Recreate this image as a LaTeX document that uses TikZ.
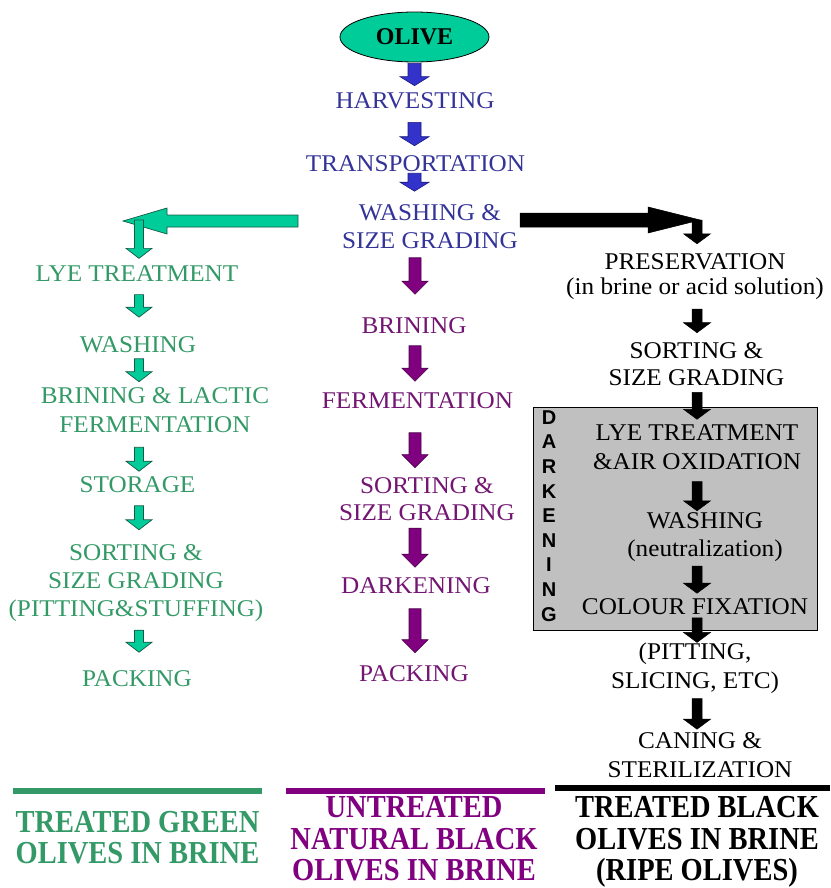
\documentclass[tikz,border=0pt]{standalone}
\usepackage{fontspec}
\setmainfont{Liberation Serif}
\newfontfamily\bodyfont{Liberation Serif}[FakeStretch=1.05]
\newfontfamily\arialfont{Liberation Sans}
\usepackage{graphicx}
\usetikzlibrary{calc,shapes.geometric}
\definecolor{txtblue}{HTML}{333399}
\definecolor{arrblue}{HTML}{3333CC}
\definecolor{edgeblue}{HTML}{1A1A80}
\definecolor{txtgreen}{HTML}{339966}
\definecolor{arrgreen}{HTML}{00CC99}
\definecolor{edgegreen}{HTML}{145A44}
\definecolor{txtpurple}{HTML}{721672}
\definecolor{arrpurple}{HTML}{800080}
\definecolor{edgepurple}{HTML}{4A004A}
\definecolor{boxgray}{HTML}{C0C0C0}
\definecolor{olivefill}{HTML}{00CC99}
\def\fsw{6pt}\def\fhw{13pt}\def\fhl{10pt}
% #1 style, #2 column reference, #3 from node, #4 to node, #5 top gap, #6 bottom gap
\newcommand\flowdown[6]{%
  \path[#1] let \p1=(#2), \p2=(#3.south), \p3=(#4.north) in
    (\x1-\fsw,\y2-#5) -- (\x1+\fsw,\y2-#5) -- (\x1+\fsw,\y3+#6+\fhl) -- (\x1+\fhw,\y3+#6+\fhl)
    -- (\x1,\y3+#6) -- (\x1-\fhw,\y3+#6+\fhl) -- (\x1-\fsw,\y3+#6+\fhl) -- cycle;}
% #1 style, #2 start coordinate, #3 to node, #4 bottom gap
\newcommand\flowfrom[4]{%
  \path[#1] let \p1=(#2), \p3=(#3.north) in
    (\x1-\fsw,\y1) -- (\x1+\fsw,\y1) -- (\x1+\fsw,\y3+#4+\fhl) -- (\x1+\fhw,\y3+#4+\fhl)
    -- (\x1,\y3+#4) -- (\x1-\fhw,\y3+#4+\fhl) -- (\x1-\fsw,\y3+#4+\fhl) -- cycle;}
\newcommand\sq[1]{\scalebox{0.89}[1]{#1}}
\begin{document}
\begin{tikzpicture}[x=1pt,y=-1pt,
  txt/.style={inner sep=0pt, align=center, font=\bodyfont\fontsize{24}{28}\selectfont},
  bluetxt/.style={txt, text=txtblue},
  purptxt/.style={txt, text=txtpurple},
  greentxt/.style={txt, text=txtgreen},
  blacktxt/.style={txt, text=black},
  titletxt/.style={inner sep=0pt, align=center, anchor=north, font=\bfseries\fontsize{32}{31.5}\selectfont},
  olivenode/.style={ellipse, draw=black, line width=0.8pt, fill=olivefill, minimum width=149pt, minimum height=50pt, inner sep=0pt, font=\bfseries\fontsize{24}{28}\selectfont},
  bluearrow/.style={fill=arrblue, draw=edgeblue, line width=0.6pt, /utils/exec={\def\fsw{6.5pt}\def\fhw{14.5pt}\def\fhl{9pt}}},
  purparrow/.style={fill=arrpurple, draw=edgepurple, line width=0.6pt, /utils/exec={\def\fsw{6pt}\def\fhw{13pt}\def\fhl{13pt}}},
  greenarrow/.style={fill=arrgreen, draw=edgegreen, line width=0.7pt, /utils/exec={\def\fsw{4.5pt}\def\fhw{13pt}\def\fhl{10pt}}},
  blackarrow/.style={fill=black, draw=black, line width=0.5pt, /utils/exec={\def\fsw{5pt}\def\fhw{13.5pt}\def\fhl{10pt}}},
  baseline rule/.style={line width=5.5pt}
]
\useasboundingbox (0,0) rectangle (830,888);

% column references
\coordinate (colB) at (414.5,0);
\coordinate (colP) at (415,0);
\coordinate (colG) at (139,0);
\coordinate (colK) at (697,0);

% ---------- central column ----------
\node[olivenode] (olive) at (414.5,37) {OLIVE};
\node[bluetxt] (harv) at (415,101) {HARVESTING};
\node[bluetxt] (trans) at (415.5,164) {TRANSPORTATION};
\node[bluetxt] (wash) at (430,226.5) {WASHING \&\\SIZE GRADING};

\node[purptxt] (brin) at (414,325.5) {BRINING};
\node[purptxt] (ferm) at (417.5,400.5) {FERMENTATION};
\node[purptxt, font=\bodyfont\fontsize{24}{27}\selectfont] (psort) at (427,499.4) {SORTING \&\\SIZE GRADING};
\node[purptxt] (pdark) at (416,585.5) {DARKENING};
\node[purptxt] (ppack) at (414,674) {PACKING};

% ---------- green column ----------
\node[greentxt] (glye) at (137,273.5) {LYE TREATMENT};
\node[greentxt] (gwash) at (138,344.5) {WASHING};
\node[greentxt, font=\bodyfont\fontsize{24}{29}\selectfont] (gbrin) at (155,410.5) {BRINING \& LACTIC\\FERMENTATION};
\node[greentxt] (gstor) at (137.5,484.5) {STORAGE};
\node[greentxt] (gsort) at (136,583.5) {SORTING \&\\SIZE GRADING\\(PITTING\&STUFFING)};
\node[greentxt] (gpack) at (137,678.5) {PACKING};

% ---------- black column ----------
\node[draw=black, fill=boxgray, line width=1pt, minimum width=284pt, minimum height=223pt, inner sep=0pt] (dbox) at (675,518.5) {};
\node[inner sep=0pt, align=center, font=\arialfont\bfseries\fontsize{20}{24.6}\selectfont] (dk) at (549,516) {D\\A\\R\\K\\E\\N\\I\\N\\G};

\node[blacktxt, font=\bodyfont\fontsize{24}{25}\selectfont] (pres) at (695,277) {PRESERVATION\\(in brine or acid solution)};
\node[blacktxt, font=\bodyfont\fontsize{24}{27}\selectfont] (ksort) at (696.5,364.5) {SORTING \&\\SIZE GRADING};
\node[blacktxt, font=\bodyfont\fontsize{24}{29}\selectfont] (klye) at (697,447) {LYE TREATMENT\\\&AIR OXIDATION};
\node[blacktxt] (kwash) at (705,537.5) {WASHING\\(neutralization)};
\node[blacktxt] (kfix) at (695,606.5) {COLOUR FIXATION};
\node[blacktxt, font=\bodyfont\fontsize{24}{29}\selectfont] (kpit) at (695,668) {(PITTING,\\SLICING, ETC)};
\node[blacktxt, font=\bodyfont\fontsize{24}{29}\selectfont] (kcan) at (700,755) {CANING \&\\STERILIZATION};

% ---------- connectors ----------
\flowdown{bluearrow}{colB}{olive}{harv}{1pt}{7pt}
\flowdown{bluearrow}{colB}{harv}{trans}{13pt}{10pt}
\flowdown{bluearrow}{colB}{trans}{wash}{1pt}{13pt}

\flowdown{purparrow}{colP}{wash}{brin}{9pt}{23pt}
\flowdown{purparrow}{colP}{brin}{ferm}{12pt}{11pt}
\flowdown{purparrow}{colP}{ferm}{psort}{24pt}{10pt}
\flowdown{purparrow}{colP}{psort}{pdark}{7pt}{10pt}
\flowdown{purparrow}{colP}{pdark}{ppack}{15pt}{13pt}

% green branch
\coordinate (gtail) at (298,221);
\coordinate (gtip) at (123,221);
\coordinate (gturn) at (139,220);
\path[greenarrow] let \p1=(gtail), \p2=(gtip) in
  (\x1,\y1+6pt) -- (\x2+44pt,\y1+6pt) -- (\x2+44pt,\y1+13pt) -- (\x2,\y2)
  -- (\x2+44pt,\y1-13pt) -- (\x2+44pt,\y1-6pt) -- (\x1,\y1-6pt) -- cycle;
\flowfrom{greenarrow}{gturn}{glye}{7pt}
\flowdown{greenarrow}{colG}{glye}{gwash}{13pt}{19pt}
\flowdown{greenarrow}{colG}{gwash}{gbrin}{6pt}{6pt}
\flowdown{greenarrow}{colG}{gbrin}{gstor}{14pt}{5pt}
\flowdown{greenarrow}{colG}{gstor}{gsort}{13pt}{15pt}
\flowdown{greenarrow}{colG}{gsort}{gpack}{8pt}{18pt}

% black branch
\coordinate (ktail) at (520,220);
\coordinate (ktip) at (700,220);
\coordinate (kturn) at (697,220);
\path[blackarrow] let \p1=(ktail), \p2=(ktip) in
  (\x1,\y1+7pt) -- (\x2-52pt,\y1+7pt) -- (\x2-52pt,\y1+13pt) -- (\x2,\y2)
  -- (\x2-52pt,\y1-13pt) -- (\x2-52pt,\y1-7pt) -- (\x1,\y1-7pt) -- cycle;
\flowfrom{blackarrow}{kturn}{pres}{10pt}
\flowdown{blackarrow}{colK}{pres}{ksort}{9pt}{10pt}
\flowdown{blackarrow}{colK}{ksort}{klye}{6pt}{5pt}
\flowdown{blackarrow}{colK}{klye}{kwash}{12pt}{2pt}
\flowdown{blackarrow}{colK}{kwash}{kfix}{4pt}{5pt}
\flowdown{blackarrow}{colK}{kfix}{kpit}{3pt}{0pt}
\flowdown{blackarrow}{colK}{kpit}{kcan}{5pt}{3pt}

% ---------- bottom legends ----------
\draw[baseline rule, txtgreen] (13,791) -- (262,791);
\draw[baseline rule, arrpurple] (286,791) -- (545,791);
\draw[baseline rule, black] (555,788) -- (830,788);

\node[titletxt, text=txtgreen] (gtitle) at (137.5,811) {\sq{TREATED GREEN}\\\sq{OLIVES IN BRINE}};
\node[titletxt, text=arrpurple] (ptitle) at (414,796.5) {\sq{UNTREATED}\\\sq{NATURAL BLACK}\\\sq{OLIVES IN BRINE}};
\node[titletxt, text=black] (ktitle) at (697,796.5) {\sq{TREATED BLACK}\\\sq{OLIVES IN BRINE}\\\sq{(RIPE OLIVES)}};
\end{tikzpicture}
\end{document}
